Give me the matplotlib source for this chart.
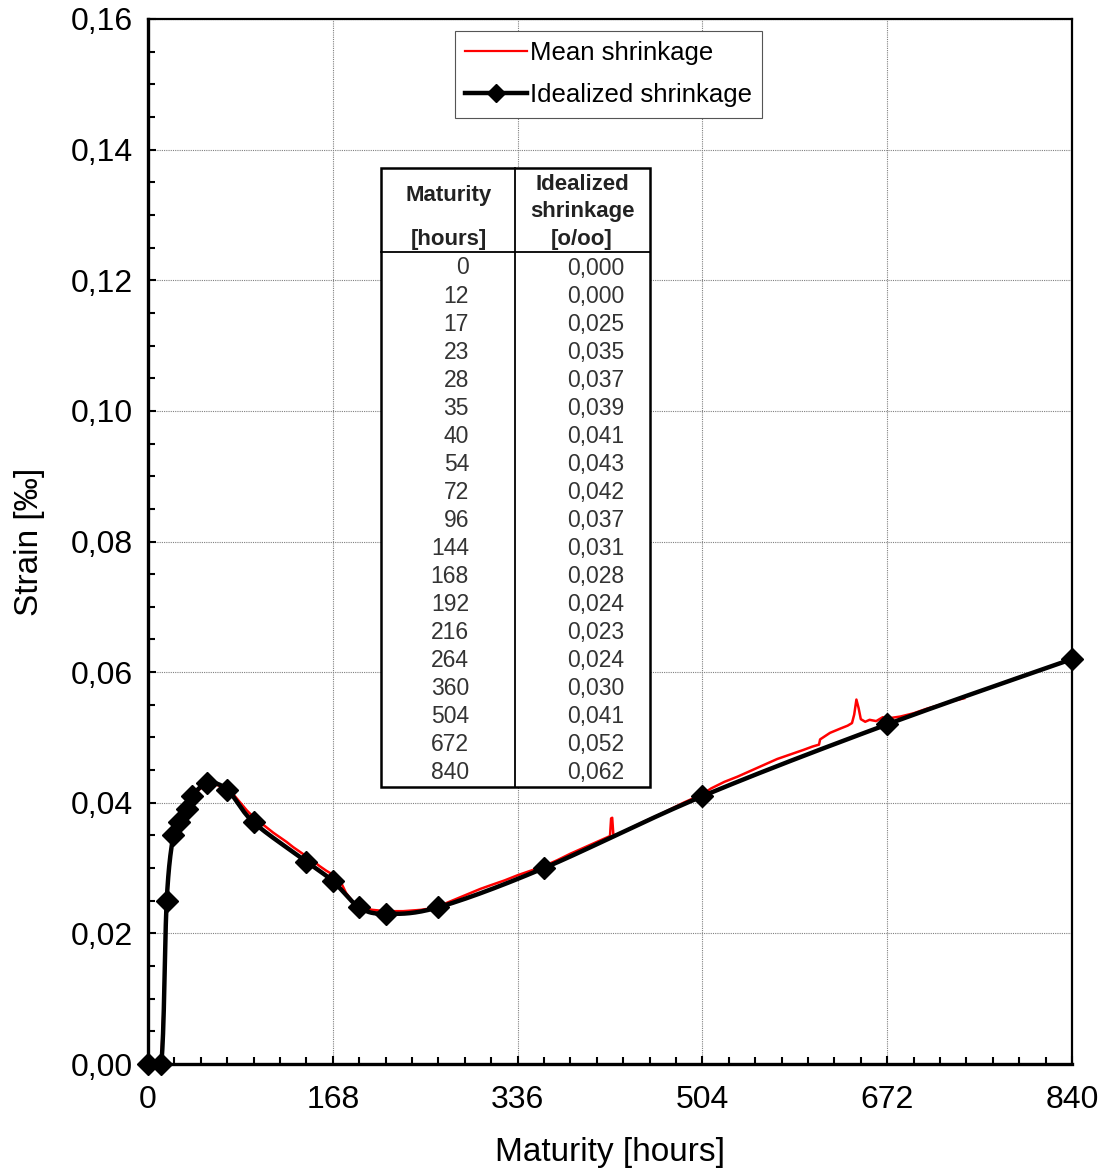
import numpy as np
import matplotlib
matplotlib.use("Agg")
import matplotlib.pyplot as plt
from matplotlib.ticker import MultipleLocator, FuncFormatter
from matplotlib.patches import Rectangle
from matplotlib.lines import Line2D

plt.rcParams['font.family'] = ['Liberation Sans', 'DejaVu Sans']

# ---- data ----
ideal_hours = [0, 12, 17, 23, 28, 35, 40, 54, 72, 96, 144, 168, 192, 216, 264, 360, 504, 672, 840]
ideal_strain = [0.000, 0.000, 0.025, 0.035, 0.037, 0.039, 0.041, 0.043, 0.042, 0.037,
                0.031, 0.028, 0.024, 0.023, 0.024, 0.030, 0.041, 0.052, 0.062]

mean_hours = [12, 14, 16, 17, 19, 21, 23, 26, 28, 31, 35, 38, 40, 45, 50, 54, 58, 63, 68, 72,
              78, 84, 90, 96, 102, 108, 114, 120, 126, 132, 138, 144, 150, 156, 162, 168,
              172, 176, 180, 186, 192, 198, 204, 210, 216, 224, 232, 240, 248, 256, 264,
              272, 282, 292, 302, 312, 324, 336, 348, 360, 372, 384, 396, 408, 416, 420,
              421, 422, 423, 424, 430, 440, 452, 464, 476, 488, 500, 504, 512, 524, 536,
              548, 560, 572, 584, 596, 604, 610, 611, 620, 630, 636, 640, 642, 644, 646,
              648, 652, 656, 662, 668, 672, 676, 684, 696, 708, 720, 732, 742]
mean_strain = [0.000, 0.008, 0.020, 0.025, 0.030, 0.033, 0.035, 0.036, 0.037, 0.038, 0.039,
               0.040, 0.041, 0.0418, 0.0425, 0.0430, 0.0430, 0.0427, 0.0424, 0.0421,
               0.0412, 0.0400, 0.0388, 0.0378, 0.0370, 0.0362, 0.0354, 0.0347, 0.0340,
               0.0332, 0.0325, 0.0318, 0.0311, 0.0303, 0.0296, 0.0290,
               0.0284, 0.0276, 0.0262, 0.0249, 0.0242, 0.0238, 0.0236, 0.0235, 0.0234,
               0.0234, 0.0234, 0.0235, 0.0236, 0.0238, 0.0240,
               0.0247, 0.0254, 0.0261, 0.0268, 0.0274, 0.0281, 0.0289, 0.0296, 0.0303,
               0.0312, 0.0322, 0.0331, 0.0340, 0.0346, 0.0349,
               0.0376, 0.0377, 0.0352, 0.0350, 0.0354, 0.0362, 0.0372, 0.0381, 0.0391,
               0.0401, 0.0410, 0.0413, 0.0422, 0.0432, 0.0440,
               0.0449, 0.0458, 0.0467, 0.0474, 0.0481, 0.0486, 0.0489, 0.0497, 0.0507,
               0.0514, 0.0518, 0.0522, 0.0535, 0.0558, 0.0545,
               0.0528, 0.0524, 0.0527, 0.0525, 0.0531, 0.0526, 0.0530, 0.0532, 0.0537,
               0.0544, 0.0550, 0.0556, 0.0560]

table_hours = ["0", "12", "17", "23", "28", "35", "40", "54", "72", "96", "144", "168",
               "192", "216", "264", "360", "504", "672", "840"]
table_strain = ["0,000", "0,000", "0,025", "0,035", "0,037", "0,039", "0,041", "0,043",
                "0,042", "0,037", "0,031", "0,028", "0,024", "0,023", "0,024", "0,030",
                "0,041", "0,052", "0,062"]


def smooth_curve(xs, ys, n=30):
    """Excel-like smoothed line (Catmull-Rom Bezier) through the data points."""
    P = np.column_stack([xs, ys]).astype(float)
    pts = []
    m = len(P)
    for i in range(m - 1):
        p0 = P[i - 1] if i > 0 else P[i]
        p1 = P[i]
        p2 = P[i + 1]
        p3 = P[i + 2] if i + 2 < m else P[i + 1]
        c1 = p1 + (p2 - p0) / 6.0
        c2 = p2 - (p3 - p1) / 6.0
        t = np.linspace(0, 1, n)[:, None]
        seg = ((1 - t) ** 3) * p1 + 3 * ((1 - t) ** 2) * t * c1 + 3 * (1 - t) * t ** 2 * c2 + t ** 3 * p2
        pts.append(seg if i == 0 else seg[1:])
    a = np.vstack(pts)
    return a[:, 0], a[:, 1]


W, H = 1099, 1169
fig = plt.figure(figsize=(W / 100, H / 100), dpi=100)
L, R, T, B = 148, 1072, 19, 1064
ax = fig.add_axes([L / W, (H - B) / H, (R - L) / W, (B - T) / H])

ax.set_xlim(0, 840)
ax.set_ylim(0, 0.16)

ax.plot(mean_hours, mean_strain, color='#ff0000', lw=1.8, zorder=3)
sx, sy = smooth_curve(ideal_hours, ideal_strain)
ax.plot(sx, sy, color='black', lw=3.2, zorder=4, solid_capstyle='round')
ax.plot(ideal_hours, ideal_strain, ls='none', marker='D', ms=11, color='black',
        zorder=5, clip_on=False)

ax.xaxis.set_major_locator(MultipleLocator(168))
ax.xaxis.set_minor_locator(MultipleLocator(24))
ax.yaxis.set_major_locator(MultipleLocator(0.02))
ax.yaxis.set_minor_locator(MultipleLocator(0.005))
ax.yaxis.set_major_formatter(FuncFormatter(lambda v, p: f"{v:.2f}".replace('.', ',')))
ax.xaxis.set_major_formatter(FuncFormatter(lambda v, p: f"{int(round(v))}"))

ax.tick_params(axis='both', which='both', direction='in', top=False, right=False,
               labelsize=23, colors='black')
ax.tick_params(axis='both', which='major', length=6, width=1.5)
ax.tick_params(axis='both', which='minor', length=5, width=1.5)
ax.tick_params(axis='y', which='major', pad=11)
ax.tick_params(axis='x', which='major', pad=15)

ax.grid(True, which='major', color='#808080', ls=(0, (1, 1)), lw=0.8, zorder=0)
for side in ['left', 'bottom']:
    ax.spines[side].set_linewidth(2.4)
for side in ['top', 'right']:
    ax.spines[side].set_linewidth(1.6)

ax.set_xlabel('Maturity [hours]', fontsize=24, labelpad=16)
ax.set_ylabel('Strain [‰]', fontsize=24, labelpad=18)

# legend
handles = [Line2D([], [], color='#ff0000', lw=1.6),
           Line2D([], [], color='black', lw=3.2, marker='D', ms=9)]
leg = fig.legend(handles, ['Mean shrinkage', 'Idealized shrinkage'],
                 loc='upper left', bbox_to_anchor=(455 / W, 1 - 31 / H),
                 bbox_transform=fig.transFigure, fontsize=18.5, frameon=True,
                 fancybox=False, edgecolor='#555555', framealpha=1,
                 handlelength=2.4, handletextpad=0.1, borderpad=0.4,
                 labelspacing=0.7, borderaxespad=0)
leg.get_frame().set_linewidth(0.8)


def fx(px):
    return px / W


def fy(py):
    return 1 - py / H


# table
tL, tR, tT, tB = 381, 650, 168, 787
tdiv, thead = 515, 252
fig.add_artist(Rectangle((fx(tL), fy(tB)), fx(tR) - fx(tL), fy(tT) - fy(tB),
                         transform=fig.transFigure, facecolor='white',
                         edgecolor='black', lw=1.8, zorder=10))
fig.add_artist(Line2D([fx(tdiv), fx(tdiv)], [fy(tT), fy(tB)], transform=fig.transFigure,
                      color='black', lw=1.3, zorder=11))
fig.add_artist(Line2D([fx(tL), fx(tR)], [fy(thead), fy(thead)], transform=fig.transFigure,
                      color='black', lw=1.3, zorder=11))

hdr = dict(ha='center', va='center', fontsize=16, fontweight='bold', color='#222222', zorder=12)
fig.text(fx(449), fy(196), 'Maturity', **hdr)
fig.text(fx(449), fy(240), '[hours]', **hdr)
fig.text(fx(582), fy(184), 'Idealized', **hdr)
fig.text(fx(582), fy(212), 'shrinkage', **hdr)
fig.text(fx(582), fy(240), '[o/oo]', **hdr)

for i, (h, s) in enumerate(zip(table_hours, table_strain)):
    yy = fy(268 + 28.05 * i)
    fig.text(fx(469), yy, h, ha='right', va='center', fontsize=16.5, color='#333333', zorder=12)
    fig.text(fx(624), yy, s, ha='right', va='center', fontsize=16.5, color='#333333', zorder=12)

fig.savefig('out.png', dpi=100)
